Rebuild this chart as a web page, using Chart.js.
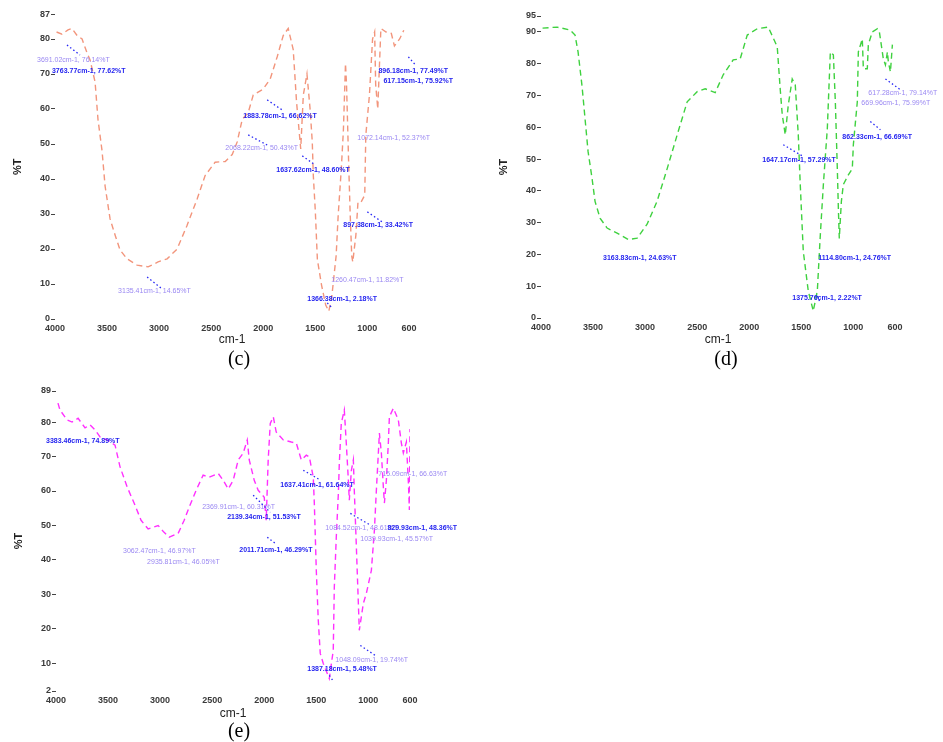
<!DOCTYPE html>
<html>
<head>
<meta charset="utf-8">
<script src="https://cdn.jsdelivr.net/npm/chart.js@4.4.1/dist/chart.umd.min.js"></script>
<style>
body { margin:0; background:#fff; width:943px; height:742px; position:relative; overflow:hidden; }
.box { position:absolute; }
.cap { position:absolute; font-family:"Liberation Serif", "Times New Roman", serif; font-size:20px; color:#000; transform:translate(-50%,-50%); }
</style>
</head>
<body>
<div class="box" style="left:0;top:0;width:470px;height:347px"><canvas id="chartC"></canvas></div>
<div class="box" style="left:470px;top:0;width:473px;height:347px"><canvas id="chartD"></canvas></div>
<div class="box" style="left:0;top:370px;width:470px;height:351px"><canvas id="chartE"></canvas></div>
<div class="cap" style="left:239px;top:358px">(c)</div>
<div class="cap" style="left:726px;top:358px">(d)</div>
<div class="cap" style="left:239px;top:730px">(e)</div>
<script>
// spectrum (c)
var waveC = [3985,3933,3875,3837,3788,3740,3692,3663,3615,3587,3548,3519,3471,3423,3375,3308,3212,3106,3010,2923,
  2827,2731,2635,2558,2462,2365,2298,2250,2202,2144,2096,2000,1933,1865,1808,1760,1712,1680,1640,1615,
  1580,1550,1529,1519,1500,1480,1440,1400,1370,1340,1300,1280,1250,1230,1210,1200,1180,1165,1150,1140,
  1110,1090,1060,1025,1015,980,950,930,920,900,885,870,820,770,740,690,650];
var transC = [82,81.4,82.6,83,81,80,76,74,67.7,57,48,38,28.6,24,19.7,17.2,15.4,14.9,16.3,17.2,
  20,26.8,34.3,41,44.8,45,47,50.6,57,59,64,65.7,68.6,75,81,83,77,62,48.6,64,
  70,60,50.6,41,31,17,9.7,4,2.2,6.8,18,29.7,43,54,73,67,45,30,18,16.3,
  24,33.4,33.4,35.4,52.5,64,80,82,67,60,71.6,83,82,81.6,78,80,82.5];

// spectrum (d)
var waveD = [3985,3846,3721,3673,3644,3606,3577,3548,3510,3481,3433,3365,3269,3163,3077,2981,2885,2788,2692,2596,
  2500,2423,2327,2250,2154,2087,2019,1923,1817,1731,1702,1683,1654,1625,1587,1558,1529,1510,1481,1433,
  1385,1346,1317,1288,1250,1221,1192,1173,1154,1144,1135,1115,1096,1048,1010,1000,962,952,914,904,
  866,856,818,769,750,712,692,673,664,644,625];
var transD = [91.2,91.5,90.6,89,83.7,73,62.7,52.4,44,36.7,31.4,28.3,26.7,24.7,25.1,29.5,36.7,47,57.6,68,
  71.2,72.1,70.9,76.5,81.2,81.5,89,91,91.5,85.3,71.8,64,57.6,67,75.2,73.4,57.6,42,21,8.5,
  2.2,8.5,26.3,42,59.6,83.7,82.8,68,47,34.5,25,36.7,42,45,47,54.5,68,83.7,87.8,78.4,
  78.4,86,90,91,90,81.5,79.6,83.7,80.6,77.4,86];

// spectrum (e)
var waveE = [3981,3962,3894,3846,3788,3721,3673,3625,3577,3510,3433,3385,3317,3250,3183,3115,3019,2962,2913,2827,
  2769,2721,2654,2587,2529,2442,2394,2346,2298,2250,2202,2163,2144,2096,2058,2000,1981,1962,1942,1913,
  1885,1817,1740,1692,1644,1596,1567,1529,1519,1500,1481,1462,1433,1375,1337,1327,1308,1288,1279,1260,
  1231,1212,1192,1183,1163,1144,1135,1115,1096,1087,1048,1019,971,942,923,904,894,875,856,846,
  827,808,798,760,712,683,664,635,615,606,600];
var transE = [85.5,83.5,80.6,80,81.1,78.3,79.2,77.7,75.7,74.8,73.3,67,61.2,56.5,51.5,49,50,48,46.6,47.7,
  51.5,55.3,60.2,64.6,64,65.1,63.1,60.6,63.1,69,71,74.8,69,63.1,60.2,58.2,51.5,69,79.6,81.5,
  77.1,74.8,74.2,73.9,69,70.4,69.9,64,56.5,37,22.5,12.9,10,5.6,13.8,32,46.6,59.3,68,79.6,
  83.5,73.9,63.1,57.3,66,69,60.2,43.7,27.4,19.6,27.4,30.3,37,48.6,60.2,71,76.8,71,61.2,56.5,
  63.1,73.9,81.5,84,80.6,73.9,71,74.2,62.2,54.5,78];

var xTicks = [4000,3500,3000,2500,2000,1500,1000,600];
var yTicksC = [0,10,20,30,40,50,60,70,80,87];
var yTicksD = [0,10,20,30,40,50,60,70,80,90,95];
var yTicksE = [2,10,20,30,40,50,60,70,80,89];

// peak labels: text, anchor (cm-1, %T), optional dotted leader
var notesC = [
  {t:'3691.02cm-1, 76.14%T', x:4173, y:74, faint:true},
  {t:'3763.77cm-1, 77.62%T', x:4029, y:70.9, lead:[3885,78.3,3760,75.4]},
  {t:'1883.78cm-1, 66.62%T', x:2192, y:58, lead:[1962,62.6,1817,59.7]},
  {t:'2068.22cm-1, 50.43%T', x:2365, y:48.9, faint:true, lead:[2144,52.6,1962,49.7]},
  {t:'1637.62cm-1, 48.60%T', x:1875, y:42.6, lead:[1625,46.6,1500,44]},
  {t:'896.18cm-1, 77.49%T', x:894, y:70.9, lead:[606,74.9,538,72.6]},
  {t:'617.15cm-1, 75.92%T', x:846, y:68},
  {t:'1072.14cm-1, 52.37%T', x:1096, y:51.7, faint:true},
  {t:'897.38cm-1, 33.42%T', x:1231, y:26.9, lead:[1000,30.6,856,27.7]},
  {t:'1260.47cm-1, 11.82%T', x:1346, y:11.1, faint:true},
  {t:'1366.38cm-1, 2.18%T', x:1577, y:5.7, lead:[1385,4.6,1340,3.2]},
  {t:'3135.41cm-1, 14.65%T', x:3394, y:8, faint:true, lead:[3115,12,2971,8.6]}
];
var notesD = [
  {t:'3163.83cm-1, 24.63%T', x:3404, y:18.8},
  {t:'1647.17cm-1, 57.29%T', x:1875, y:49.8, lead:[1673,54.5,1481,50.8]},
  {t:'1375.76cm-1, 2.22%T', x:1587, y:6.3, lead:[1346,6.9,1317,4.7]},
  {t:'1114.80cm-1, 24.76%T', x:1337, y:18.8},
  {t:'862.33cm-1, 66.69%T', x:1106, y:57, lead:[837,61.8,740,59.2]},
  {t:'617.28cm-1, 79.14%T', x:856, y:70.8, faint:true, lead:[692,75.2,548,71.8]},
  {t:'669.96cm-1, 75.99%T', x:923, y:67.7, faint:true}
];
var notesE = [
  {t:'3383.46cm-1, 74.89%T', x:4096, y:74.5},
  {t:'3062.47cm-1, 46.97%T', x:3356, y:42.6, faint:true},
  {t:'2935.81cm-1, 46.05%T', x:3125, y:39.3, faint:true},
  {t:'2369.91cm-1, 60.31%T', x:2596, y:55.3, faint:true},
  {t:'2139.34cm-1, 51.53%T', x:2356, y:52.4, lead:[2106,58.8,1942,53.8]},
  {t:'2011.71cm-1, 46.29%T', x:2240, y:42.8, lead:[1971,46.6,1894,44.8]},
  {t:'1637.41cm-1, 61.64%T', x:1846, y:61.7, lead:[1625,66,1462,63.2]},
  {t:'715.09cm-1, 66.63%T', x:904, y:64.9, faint:true},
  {t:'1084.52cm-1, 48.61%T', x:1413, y:49.2, faint:true},
  {t:'829.93cm-1, 48.36%T', x:817, y:49.2, lead:[1173,53.5,981,50.1]},
  {t:'1039.93cm-1, 45.57%T', x:1077, y:46, faint:true},
  {t:'1048.09cm-1, 19.74%T', x:1317, y:10.9, faint:true, lead:[1077,15.2,933,12.3]},
  {t:'1387.18cm-1, 5.48%T', x:1587, y:8.5, lead:[1375,6.5,1340,5]}
];

function notesPlugin(list) {
  return {
    id: 'peakNotes',
    afterDatasetsDraw: function(chart) {
      var ctx = chart.ctx, xs = chart.scales.x, ys = chart.scales.y;
      ctx.save();
      list.forEach(function(n) {
        if (n.lead) {
          ctx.beginPath();
          ctx.setLineDash([1.5, 2.5]);
          ctx.strokeStyle = '#2626f5';
          ctx.lineWidth = 1.3;
          ctx.moveTo(xs.getPixelForValue(n.lead[0]), ys.getPixelForValue(n.lead[1]));
          ctx.lineTo(xs.getPixelForValue(n.lead[2]), ys.getPixelForValue(n.lead[3]));
          ctx.stroke();
        }
        ctx.setLineDash([]);
        ctx.font = (n.faint ? '' : 'bold ') + '7px "Liberation Sans", Arial, sans-serif';
        ctx.fillStyle = n.faint ? '#9a88f2' : '#1f1fef';
        ctx.textAlign = 'left';
        ctx.textBaseline = 'middle';
        ctx.fillText(n.t, xs.getPixelForValue(n.x), ys.getPixelForValue(n.y));
      });
      ctx.restore();
    }
  };
}

function makeChart(id, waves, trans, color, yMin, yMax, yTicks, notes, pad, xH) {
  var pts = waves.map(function(w, i) { return {x: w, y: trans[i]}; });
  var tickFont = {family: '"Liberation Sans", Arial, sans-serif', size: 9, weight: 'bold'};
  return new Chart(document.getElementById(id).getContext('2d'), {
    type: 'line',
    data: {
      datasets: [{
        data: pts,
        borderColor: color,
        borderWidth: 1.4,
        borderDash: [6, 4],
        pointRadius: 0,
        tension: 0,
        fill: false
      }]
    },
    options: {
      responsive: true,
      maintainAspectRatio: false,
      animation: false,
      layout: {padding: pad},
      plugins: {legend: {display: false}, tooltip: {enabled: false}},
      scales: {
        x: {
          type: 'linear',
          reverse: true,
          min: 600,
          max: 4000,
          afterBuildTicks: function(s) { s.ticks = xTicks.map(function(v) { return {value: v}; }); },
          afterFit: function(s) { s.height = xH; },
          grid: {display: false, drawTicks: false},
          border: {display: false},
          ticks: {
            font: tickFont, color: '#3a3a3a', padding: 4, maxRotation: 0, autoSkip: false,
            callback: function(v) { return String(v); }
          },
          title: {display: true, text: 'cm-1', color: '#222', font: {family: '"Liberation Sans", Arial, sans-serif', size: 12}, padding: {top: 0, bottom: 0}}
        },
        y: {
          min: yMin,
          max: yMax,
          afterBuildTicks: function(s) { s.ticks = yTicks.map(function(v) { return {value: v}; }); },
          afterFit: function(s) { s.width = 55; },
          grid: {drawOnChartArea: false, tickLength: 4, color: '#444'},
          border: {display: false},
          ticks: {font: tickFont, color: '#3a3a3a', padding: 1, autoSkip: false, callback: function(v) { return String(v); }},
          title: {display: true, text: '%T', color: '#222', font: {family: '"Liberation Sans", Arial, sans-serif', size: 11, weight: 'bold'}, padding: {top: 11, bottom: 0}}
        }
      }
    },
    plugins: [notesPlugin(notes)]
  });
}

makeChart('chartC', waveC, transC, '#f2957c', 0, 87, yTicksC, notesC, {top: 14.5, left: 0, right: 61, bottom: 0}, 28);
makeChart('chartD', waveD, transD, '#3fd13f', 0, 95, yTicksD, notesD, {top: 16, left: 16, right: 48, bottom: 0}, 29);
makeChart('chartE', waveE, transE, '#ff30ff', 2, 89, yTicksE, notesE, {top: 21, left: 1, right: 60, bottom: 0}, 30);
</script>
</body>
</html>
